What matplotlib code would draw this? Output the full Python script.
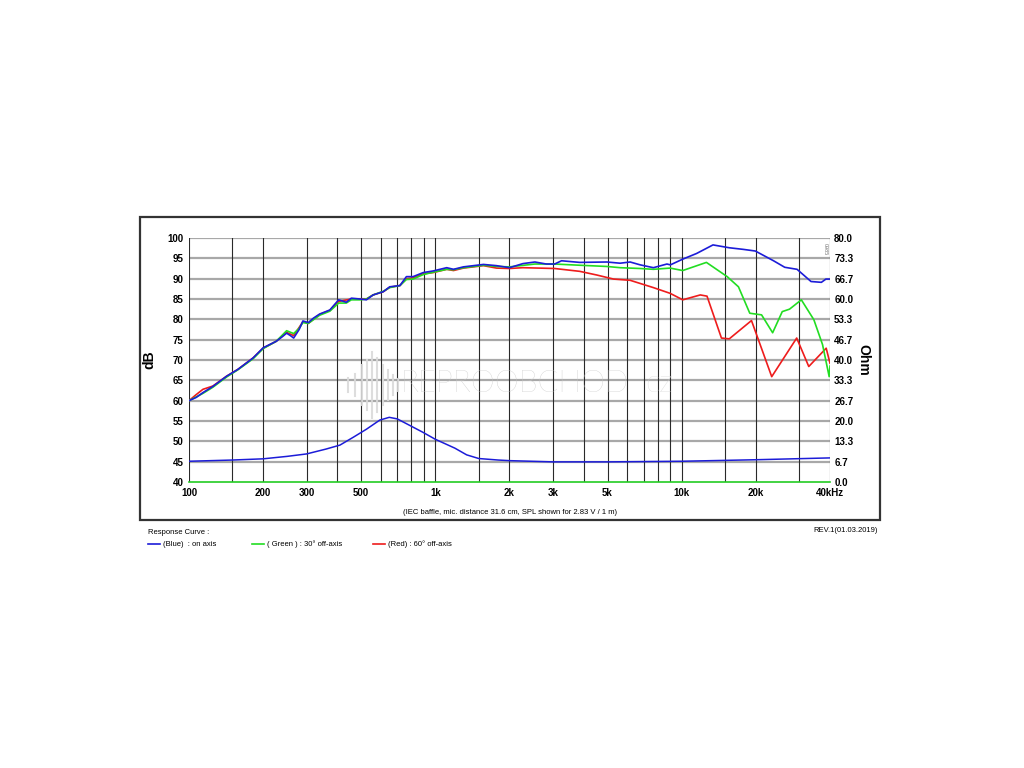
import matplotlib.pyplot as plt
from matplotlib.lines import Line2D
from matplotlib.patches import Rectangle
from matplotlib.ticker import FixedLocator, NullLocator

plt.rcParams['font.family'] = ['Liberation Sans', 'DejaVu Sans']

# on-axis (blue)
f_blue = [100, 107, 114, 125, 142, 158, 182, 200, 226, 240, 249, 258, 266, 280, 290, 305,
          320, 339, 373, 405, 435, 456, 494, 525, 559, 615, 653, 718, 763, 812, 893, 981,
          1112, 1185, 1300, 1568, 1772, 2000, 2266, 2536, 2820, 3050, 3253, 3857, 4970,
          5624, 6175, 6780, 7676, 8710, 9000, 10100, 11500, 13400, 15600, 17800, 19900,
          23600, 26200, 29400, 33500, 36900, 38500, 40000]
db_blue = [60.0, 60.8, 62.0, 63.5, 66.0, 67.7, 70.5, 73.0, 74.6, 75.8, 76.6, 76.0, 75.4, 77.5,
           79.6, 79.2, 80.3, 81.3, 82.3, 84.8, 84.2, 85.2, 85.0, 84.8, 86.0, 86.8, 88.0, 88.3,
           90.5, 90.5, 91.5, 91.9, 92.7, 92.3, 92.9, 93.5, 93.2, 92.7, 93.7, 94.1, 93.6, 93.6,
           94.4, 94.0, 94.1, 93.8, 94.1, 93.4, 92.7, 93.6, 93.4, 94.8, 96.2, 98.3, 97.6, 97.2,
           96.8, 94.4, 92.8, 92.3, 89.3, 89.1, 89.9, 89.9]

# 30 deg off-axis (green)
f_green = [100, 114, 125, 142, 158, 182, 200, 226, 249, 266, 280, 290, 305, 339, 373, 405,
           435, 456, 494, 525, 559, 615, 653, 718, 763, 812, 893, 981, 1112, 1185, 1300, 1568,
           1772, 2000, 2536, 3050, 3857, 4970, 5624, 6780, 7676, 8970, 10100, 12600, 15300,
           17000, 18900, 21100, 23400, 25600, 27400, 30600, 34400, 37300, 39700, 40000]
db_green = [60.0, 61.8, 63.3, 65.8, 67.6, 70.3, 72.8, 74.6, 77.2, 76.5, 77.8, 79.2, 79.0, 81.0,
            82.0, 84.0, 84.0, 84.8, 84.8, 85.0, 86.0, 86.9, 87.8, 88.3, 89.8, 89.9, 91.0, 91.6,
            92.3, 92.2, 92.7, 93.3, 93.0, 92.9, 93.6, 93.6, 93.3, 93.0, 92.7, 92.5, 92.3, 92.6,
            92.0, 94.0, 90.5, 88.0, 81.5, 81.1, 76.7, 81.9, 82.5, 84.8, 79.9, 73.8, 65.9, 68.5]

# 60 deg off-axis (red)
f_red = [100, 107, 114, 125, 142, 158, 182, 200, 226, 249, 266, 290, 305, 339, 373, 405, 456,
         525, 559, 615, 653, 718, 763, 812, 893, 981, 1112, 1185, 1300, 1568, 1772, 2000, 2266,
         3050, 3857, 4520, 5290, 6175, 7676, 8970, 10100, 11900, 12670, 14500, 15600, 19200,
         23200, 29300, 32800, 38600, 40000]
db_red = [60.0, 61.5, 62.8, 63.6, 66.0, 67.7, 70.5, 72.9, 74.6, 76.8, 76.0, 79.4, 79.0, 81.2,
          82.2, 84.4, 85.0, 85.0, 86.0, 86.8, 87.9, 88.3, 90.0, 90.2, 91.2, 91.5, 92.3, 92.0,
          92.6, 93.2, 92.6, 92.5, 92.7, 92.5, 91.8, 90.9, 89.9, 89.6, 87.8, 86.4, 84.8, 86.0,
          85.7, 75.4, 75.2, 79.7, 65.9, 75.4, 68.4, 72.9, 69.2]

# impedance (Ohm, right axis)
f_imp = [100, 150, 200, 250, 300, 360, 410, 465, 525, 595, 650, 700, 760, 890, 1000, 1200,
         1340, 1500, 1800, 2000, 3000, 5000, 10000, 20000, 40000]
ohm_imp = [6.8, 7.2, 7.6, 8.4, 9.2, 10.8, 12.1, 14.7, 17.3, 20.3, 21.2, 20.7, 19.2, 16.3, 14.0,
           11.1, 8.9, 7.7, 7.2, 7.0, 6.6, 6.6, 6.8, 7.3, 7.9]

grid_freqs = [100, 150, 200, 300, 400, 500, 600, 700, 800, 900, 1000, 1500, 2000, 3000, 4000,
              5000, 6000, 7000, 8000, 9000, 10000, 15000, 20000, 30000, 40000]
x_ticks = [100, 200, 300, 500, 1000, 2000, 3000, 5000, 10000, 20000, 40000]
x_labels = ['100', '200', '300', '500', '1k', '2k', '3k', '5k', '10k', '20k', '40kHz']
db_ticks = list(range(40, 101, 5))
ohm_ticks = [i * 80 / 12 for i in range(13)]

W, H = 1024, 768
fig = plt.figure(figsize=(10.24, 7.68), dpi=100)
fig.patch.set_facecolor('white')

def fx(px):
    return px / W

def fy(py):
    return 1 - py / H

ax = fig.add_axes([fx(189), fy(482), fx(830) - fx(189), fy(238) - fy(482)])
ax.set_xscale('log')
ax.set_xlim(100, 40000)
ax.set_ylim(40, 100)

for y in db_ticks[1:]:
    ax.axhline(y, color='#a8a8a8', lw=1.6, zorder=1)
for f in grid_freqs:
    ax.axvline(f, color='#2a2a2a', lw=0.8, zorder=2)

ax.plot(f_red, db_red, color='#ee1c1c', lw=1.2, zorder=4)
ax.plot(f_green, db_green, color='#22dd22', lw=1.2, zorder=5)
ax.plot(f_blue, db_blue, color='#1c1cd8', lw=1.2, zorder=6)

for s in ['top', 'left', 'right']:
    ax.spines[s].set_visible(False)
ax.spines['bottom'].set_color('#22cc22')
ax.spines['bottom'].set_linewidth(1.2)

ax.xaxis.set_major_locator(FixedLocator(x_ticks))
ax.xaxis.set_minor_locator(NullLocator())
ax.set_xticklabels(x_labels, fontsize=7, fontweight='bold')
ax.set_yticks(db_ticks)
ax.set_yticklabels([str(v) for v in db_ticks], fontsize=7, fontweight='bold')
ax.tick_params(length=0, pad=4)
ax.set_ylabel('dB', fontsize=10, fontweight='bold', labelpad=8)

ax2 = ax.twinx()
ax2.set_ylim(0, 80)
ax2.plot(f_imp, ohm_imp, color='#1c1cd8', lw=1.1, zorder=6)
ax2.set_yticks(ohm_ticks)
ax2.set_yticklabels(['%.1f' % v for v in ohm_ticks], fontsize=7, fontweight='bold')
ax2.tick_params(length=0, pad=3)
for s in ['top', 'left', 'right', 'bottom']:
    ax2.spines[s].set_visible(False)
ax2.set_ylabel('Ohm', fontsize=10, fontweight='bold', rotation=270, labelpad=12)
ax2.text(0.993, 0.98, '0985', transform=ax2.transAxes, rotation=270, fontsize=4,
         color='#777777', ha='center', va='top')

# watermark
bar_x = [348, 355, 362, 367, 372, 377, 383, 388, 393, 398]
bar_h = [14, 22, 40, 50, 66, 54, 40, 30, 20, 12]
for x, h in zip(bar_x, bar_h):
    fig.add_artist(Line2D([fx(x), fx(x)], [fy(385 + h / 2), fy(385 - h / 2)],
                          color='#dadada', lw=1.5, alpha=0.9, zorder=1))
fig.text(fx(400), fy(383), 'REPROOBCHOD', fontsize=22, color='#c6c6c6',
         family='Lato', fontweight='light', va='center', ha='left', zorder=1)
fig.text(fx(645), fy(383), 'cz', fontsize=22, color='#d4d4d4',
         family='Lato', fontweight='light', va='center', ha='left', zorder=1)

# outer frame
fig.add_artist(Rectangle((fx(140), fy(520)), fx(880) - fx(140), fy(217) - fy(520),
                         fill=False, ec='#333333', lw=1.6))

fig.text(fx(510), fy(512), '(IEC baffle, mic. distance 31.6 cm, SPL shown for 2.83 V / 1 m)',
         fontsize=5.5, ha='center', va='center')
fig.text(fx(148), fy(532), 'Response Curve :', fontsize=5.5, ha='left', va='center')
fig.text(fx(878), fy(530), 'REV.1(01.03.2019)', fontsize=5.5, ha='right', va='center')

legend_items = [(148, '#1c1cd8', '(Blue)  : on axis'),
                (252, '#22dd22', '( Green ) : 30° off-axis'),
                (373, '#ee1c1c', '(Red) : 60° off-axis')]
for x, c, label in legend_items:
    fig.add_artist(Line2D([fx(x), fx(x + 12)], [fy(544), fy(544)], color=c, lw=1.2))
    fig.text(fx(x + 15), fy(544), label, fontsize=5.5, ha='left', va='center')

plt.savefig('out.png', dpi=100, facecolor='white')
